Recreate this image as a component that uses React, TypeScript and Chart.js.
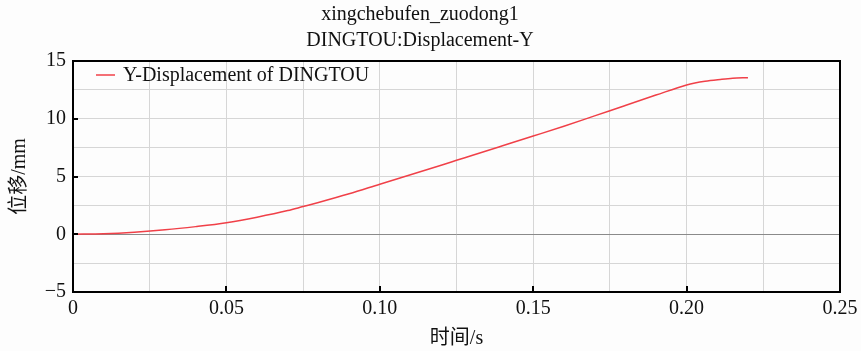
import React, { useEffect, useRef } from "react";
import { Chart, registerables } from "chart.js";

Chart.register(...registerables);

const titleLines = ["xingchebufen_zuodong1", "DINGTOU:Displacement-Y"];
const seriesLabel = "Y-Displacement of DINGTOU";
const xAxisTitle = "时间/s";
const yAxisTitle = "位移/mm";

const timeValues = [
  0, 0.01, 0.02, 0.03, 0.04, 0.05, 0.06, 0.07, 0.075, 0.08, 0.09, 0.1, 0.11, 0.12,
  0.125, 0.13, 0.14, 0.15, 0.16, 0.17, 0.175, 0.18, 0.19, 0.2, 0.2027, 0.206, 0.211,
  0.215, 0.22,
];
const dispValues = [
  0, 0.05, 0.18, 0.38, 0.66, 1.0, 1.48, 2.05, 2.4, 2.75, 3.5, 4.33, 5.15, 5.98, 6.4,
  6.82, 7.66, 8.5, 9.35, 10.25, 10.7, 11.15, 12.05, 12.93, 13.1, 13.25, 13.4, 13.5,
  13.56,
];

const xTickLabels: Record<string, string> = {
  "0": "0",
  "0.05": "0.05",
  "0.1": "0.10",
  "0.15": "0.15",
  "0.2": "0.20",
  "0.25": "0.25",
};
const yTickLabels: Record<string, string> = {
  "-5": "−5",
  "0": "0",
  "5": "5",
  "10": "10",
  "15": "15",
};

const FONT = "'Liberation Serif', 'Noto Sans CJK SC', serif";
const LINE_COLOR = "rgb(240, 64, 72)";

const keyOf = (v: number) => String(Math.round(v * 10000) / 10000);

const framePlugin = {
  id: "frameAndTicks",
  afterDraw(chart: any) {
    const { ctx, chartArea } = chart;
    const xs = chart.scales.x;
    const ys = chart.scales.y;
    ctx.save();
    ctx.strokeStyle = "#000";
    ctx.lineWidth = 2;
    ctx.beginPath();
    xs.ticks.forEach((t: any) => {
      if (xTickLabels[keyOf(t.value)] !== undefined) {
        const px = Math.round(xs.getPixelForValue(t.value));
        ctx.moveTo(px, chartArea.bottom);
        ctx.lineTo(px, chartArea.bottom - 6);
      }
    });
    ys.ticks.forEach((t: any) => {
      if (yTickLabels[keyOf(t.value)] !== undefined) {
        const py = Math.round(ys.getPixelForValue(t.value));
        ctx.moveTo(chartArea.left, py);
        ctx.lineTo(chartArea.left + 5, py);
      }
    });
    ctx.stroke();
    ctx.strokeRect(
      chartArea.left,
      chartArea.top,
      chartArea.right - chartArea.left,
      chartArea.bottom - chartArea.top
    );
    const ds = chart.data.datasets[0];
    const lx = chartArea.left + 23;
    const ly = chartArea.top + 14;
    ctx.strokeStyle = ds.borderColor;
    ctx.lineWidth = 1.5;
    ctx.beginPath();
    ctx.moveTo(lx, ly);
    ctx.lineTo(lx + 19, ly);
    ctx.stroke();
    ctx.fillStyle = "#111";
    ctx.font = `20px ${FONT}`;
    ctx.textBaseline = "middle";
    ctx.textAlign = "left";
    ctx.fillText(ds.label, lx + 27, ly + 1);
    ctx.restore();
  },
};

export default function App() {
  const canvasRef = useRef<HTMLCanvasElement | null>(null);

  useEffect(() => {
    document.body.style.margin = "0";
    const canvas = canvasRef.current;
    if (!canvas) return;
    const data = timeValues.map((t, i) => ({ x: t, y: dispValues[i] }));
    const chart = new Chart(canvas, {
      type: "scatter",
      data: {
        datasets: [
          {
            label: seriesLabel,
            data,
            showLine: true,
            borderColor: LINE_COLOR,
            backgroundColor: LINE_COLOR,
            borderWidth: 1.5,
            pointRadius: 0,
            cubicInterpolationMode: "monotone",
          },
        ],
      },
      options: {
        animation: false,
        responsive: false,
        devicePixelRatio: 1,
        layout: { padding: { top: 0, right: 21, left: 0, bottom: 0 } },
        plugins: {
          legend: { display: false },
          tooltip: { enabled: false },
          title: {
            display: true,
            text: titleLines,
            color: "#111",
            font: { family: FONT, size: 20, weight: "normal", lineHeight: 1.3 },
            padding: { top: 2, bottom: 7 },
          },
        },
        scales: {
          x: {
            type: "linear",
            min: 0,
            max: 0.25,
            afterFit: (s: any) => {
              s.height = 59;
              s.paddingRight = 0;
              s.paddingLeft = 0;
            },
            ticks: {
              stepSize: 0.025,
              autoSkip: false,
              maxRotation: 0,
              padding: 5,
              color: "#111",
              font: { family: FONT, size: 20 },
              callback: (v: any) => xTickLabels[keyOf(Number(v))] ?? "",
            },
            grid: {
              drawTicks: false,
              color: "#d6d6d6",
              lineWidth: 1,
            },
            border: { display: false },
            title: {
              display: true,
              text: xAxisTitle,
              color: "#111",
              font: { family: FONT, size: 20 },
              padding: { top: 0, bottom: 0 },
            },
          },
          y: {
            type: "linear",
            min: -5,
            max: 15,
            afterFit: (s: any) => {
              s.width = 73;
            },
            ticks: {
              stepSize: 2.5,
              autoSkip: false,
              padding: 7,
              color: "#111",
              font: { family: FONT, size: 20 },
              callback: (v: any) => yTickLabels[keyOf(Number(v))] ?? "",
            },
            grid: {
              drawTicks: false,
              color: (ctx: any) => (ctx.tick && ctx.tick.value === 0 ? "#8a8a8a" : "#d6d6d6"),
              lineWidth: 1,
            },
            border: { display: false },
            title: {
              display: true,
              text: yAxisTitle,
              color: "#111",
              font: { family: FONT, size: 20 },
              padding: { top: 8, bottom: 0 },
            },
          },
        },
      },
      plugins: [framePlugin],
    });
    return () => chart.destroy();
  }, []);

  return (
    <div style={{ width: 861, height: 351, background: "#fdfdfd" }}>
      <canvas ref={canvasRef} width={861} height={351} style={{ display: "block" }} />
    </div>
  );
}
